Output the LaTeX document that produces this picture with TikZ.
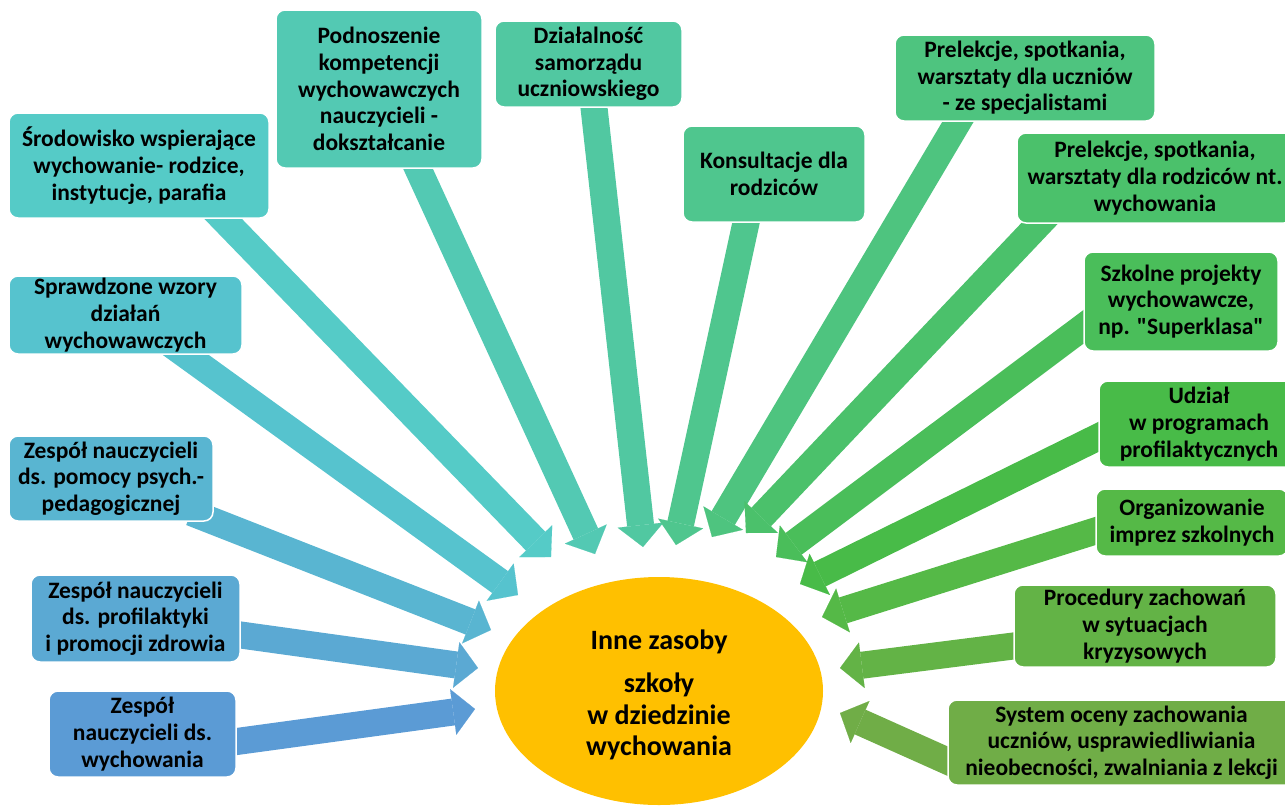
\documentclass[tikz,border=0pt]{standalone}
\usepackage{fontspec}
\setmainfont{Carlito}[Ligatures=TeXOff]
\usepackage{xcolor}
\usepackage{tikz}
\usetikzlibrary{arrows.meta,shapes.geometric,backgrounds}
\definecolor{cZwy}{HTML}{5B9BD5}
\definecolor{cPrf}{HTML}{5BA9D3}
\definecolor{cPsy}{HTML}{59B5D1}
\definecolor{cSpr}{HTML}{56C3CE}
\definecolor{cSro}{HTML}{55CBC7}
\definecolor{cPod}{HTML}{53C9B3}
\definecolor{cDzi}{HTML}{51C8A1}
\definecolor{cKon}{HTML}{4FC68E}
\definecolor{cPru}{HTML}{4EC47F}
\definecolor{cPrr}{HTML}{4BC16B}
\definecolor{cSzk}{HTML}{4ABE5A}
\definecolor{cUdz}{HTML}{48BB48}
\definecolor{cOrg}{HTML}{55B947}
\definecolor{cPro}{HTML}{63B346}
\definecolor{cSys}{HTML}{70AD47}
\definecolor{cZas}{HTML}{FFC000}

\begin{document}
\begin{tikzpicture}[x=1pt,y=-1pt,
    box/.style={rectangle,rounded corners=9pt,draw=white,line width=1.5pt,inner sep=0pt,align=center,
      font=\fontsize{23.5}{26.7}\selectfont\bfseries},
    flow/.style={line width=27pt,shorten <=-20pt,-{Triangle[length=22pt,width=46pt,line width=0.1pt]}}]
    \useasboundingbox (0,0) rectangle (1285,809);
    \node[box,fill=cSro,minimum width=260pt,minimum height=105pt] (sro) at (139,165.5) {Środowisko wspierające\\wychowanie- rodzice,\\instytucje, parafia};
    \node[box,fill=cPod,minimum width=206pt,minimum height=158pt] (pod) at (379,89) {Podnoszenie\\kompetencji\\wychowawczych\\nauczycieli -\\dokształcanie};
    \node[box,fill=cDzi,minimum width=187pt,minimum height=86pt] (dzi) at (588.5,64) {Działalność\\samorządu\\uczniowskiego};
    \node[box,fill=cKon,minimum width=182pt,minimum height=96pt] (kon) at (774,174) {Konsultacje dla\\rodziców};
    \node[box,fill=cPru,minimum width=260pt,minimum height=86pt] (pru) at (1025,78) {Prelekcje, spotkania,\\warsztaty dla uczniów\\- ze specjalistami};
    \node[box,fill=cPrr,minimum width=276pt,minimum height=90pt] (prr) at (1155,178) {Prelekcje, spotkania,\\warsztaty dla rodziców nt.\\wychowania};
    \node[box,fill=cSzk,minimum width=194pt,minimum height=99pt] (szk) at (1181,301.5) {Szkolne projekty\\wychowawcze,\\np. "Superklasa"};
    \node[box,fill=cUdz,minimum width=200pt,minimum height=86pt] (udz) at (1199,424) {Udział\\w programach\\profilaktycznych};
    \node[box,fill=cOrg,minimum width=192pt,minimum height=67pt] (org) at (1192,522.5) {Organizowanie\\imprez szkolnych};
    \node[box,fill=cPro,minimum width=262pt,minimum height=82pt] (pro) at (1145,626) {Procedury zachowań\\w sytuacjach\\kryzysowych};
    \node[box,fill=cSys,minimum width=347pt,minimum height=85pt] (sys) at (1121.5,742.5) {System oceny zachowania\\uczniów, usprawiedliwiania\\nieobecności, zwalniania z lekcji};
    \node[box,fill=cSpr,minimum width=233pt,minimum height=78pt] (spr) at (125.5,315) {Sprawdzone wzory\\działań\\wychowawczych};
    \node[box,fill=cPsy,minimum width=204pt,minimum height=85pt] (psy) at (111,478.5) {Zespół nauczycieli\\ds. pomocy psych.-\\pedagogicznej};
    \node[box,fill=cPrf,minimum width=209pt,minimum height=87pt] (prf) at (135.5,618.5) {Zespół nauczycieli\\ds. profilaktyki\\i promocji zdrowia};
    \node[box,fill=cZwy,minimum width=187pt,minimum height=86pt] (zwy) at (142.5,734) {Zespół\\nauczycieli ds.\\wychowania};
    \node[ellipse,fill=cZas,minimum width=328pt,minimum height=228pt,inner sep=0pt] (zas) at (659,691) {};
    \node[align=center,inner sep=0pt,font=\fontsize{28}{31.5}\selectfont\bfseries] (zasT) at ([yshift=-4pt]zas.center) {Inne zasoby\\[12pt]szkoły\\w dziedzinie\\wychowania};
    \coordinate (t1) at (551,557);
    \coordinate (t2) at (595,554);
    \coordinate (t3) at (643,547);
    \coordinate (t4) at (676,545);
    \coordinate (t5) at (712,537);
    \coordinate (t6) at (746,533);
    \coordinate (t7) at (776,557);
    \coordinate (t8) at (800,584);
    \coordinate (t9) at (822,617);
    \coordinate (t10) at (840,668);
    \coordinate (t11) at (840,713);
    \coordinate (t12) at (518,595);
    \coordinate (t13) at (491,630);
    \coordinate (t14) at (478,668);
    \coordinate (t15) at (475,709);
    \begin{scope}[on background layer]
      \draw[flow,cSro] ([xshift=84pt]sro.south) -- (t1);
      \draw[flow,cPod] ([xshift=39pt]pod.south) -- (t2);
      \draw[flow,cDzi] ([xshift=5.5pt]dzi.south) -- (t3);
      \draw[flow,cKon] ([xshift=-28pt]kon.south) -- (t4);
      \draw[flow,cPru] ([xshift=-67pt]pru.south) -- (t5);
      \draw[flow,cPrr] ([xshift=23pt]prr.south west) -- (t6);
      \draw[flow,cSzk] ([yshift=-25.5pt]szk.west) -- (t7);
      \draw[flow,cUdz] ([yshift=-13pt]udz.west) -- (t8);
      \draw[flow,cOrg] ([yshift=-8.5pt]org.west) -- (t9);
      \draw[flow,cPro] ([yshift=-20pt]pro.west) -- (t10);
      \draw[flow,cSys] ([yshift=-18.5pt]sys.west) -- (t11);
      \draw[flow,cSpr] ([xshift=60pt]spr.south) -- (t12);
      \draw[flow,cPsy] ([xshift=-4pt,yshift=2pt]psy.south east) -- (t13);
      \draw[flow,cPrf] ([yshift=-16.5pt]prf.east) -- (t14);
      \draw[flow,cZwy] ([yshift=-7.5pt]zwy.east) -- (t15);
    \end{scope}
\end{tikzpicture}
\end{document}
